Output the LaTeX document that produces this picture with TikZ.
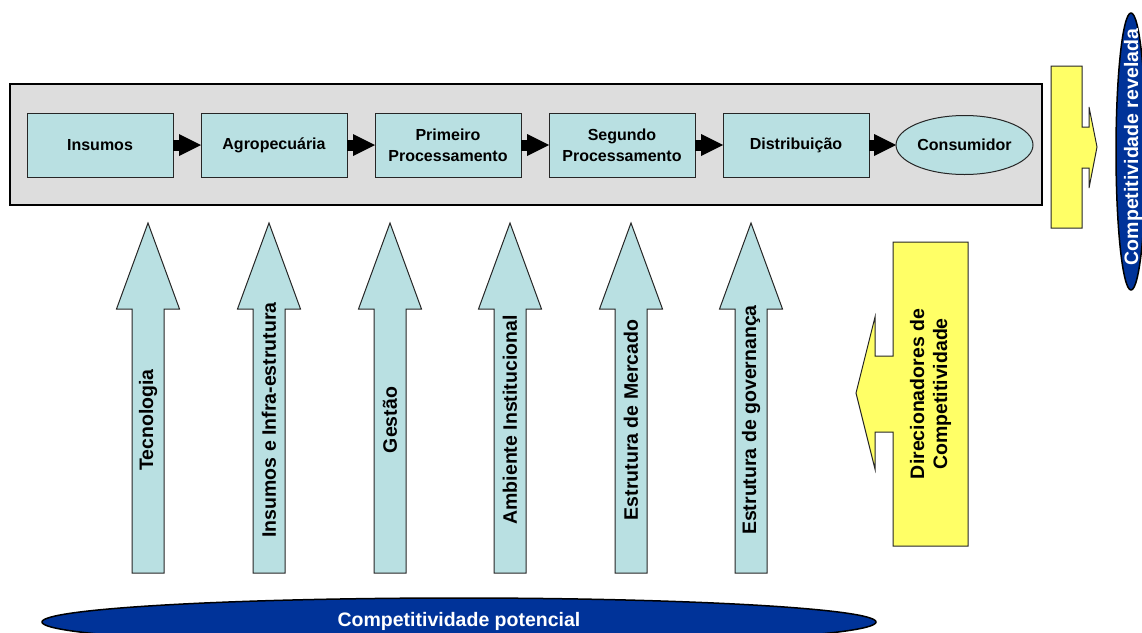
\documentclass[tikz,border=0pt]{standalone}
\usepackage{fontspec}
\setmainfont{Liberation Sans}
\usetikzlibrary{positioning, arrows.meta, shapes.geometric}
\definecolor{stagecyan}{RGB}{185,224,226}
\definecolor{panelgray}{RGB}{221,221,221}
\definecolor{driveryellow}{RGB}{255,255,102}
\definecolor{compblue}{RGB}{0,51,153}

\begin{document}
\begin{tikzpicture}[x=1pt,y=-1pt,
    stage node/.style={rectangle,draw=black!85,line width=1pt,fill=stagecyan,minimum width=146pt,
      minimum height=64pt,inner sep=0pt,outer sep=0pt,align=center,font=\bfseries\fontsize{16}{21}\selectfont},
    end node/.style={ellipse,draw=black!85,line width=1pt,fill=stagecyan,minimum width=137pt,
      minimum height=59pt,inner sep=0pt,outer sep=0pt,font=\bfseries\fontsize{16}{21}\selectfont},
    flow/.style={line width=11pt,-{Triangle[length=22pt,width=22pt,line width=0pt]}},
    up arrow/.style={draw=black!85,line width=1pt,fill=stagecyan},
    factor/.style={rotate=90,inner sep=0pt,font=\bfseries\fontsize{19.5}{23}\selectfont},
    driver/.style={draw=black!85,line width=1pt,fill=driveryellow},
    result/.style={draw=black,line width=1.5pt,fill=compblue},
    result text/.style={text=white,inner sep=0pt,font=\bfseries\fontsize{19.5}{23}\selectfont}]
  \clip (0,0) rectangle (1142,632);
  % cadeia produtiva
  \draw[fill=panelgray,line width=1.2pt] (10,84) rectangle (1042,205);
  \node[stage node] (ins) at (100,145) {Insumos};
  \node[stage node] (agro) [right=28pt of ins] {Agropecuária};
  \node[stage node] (proc1) [right=28pt of agro] {Primeiro\\Processamento};
  \node[stage node] (proc2) [right=28pt of proc1] {Segundo\\Processamento};
  \node[stage node] (dist) [right=28pt of proc2] {Distribuição};
  \node[end node] (cons) [right=27pt of dist] {Consumidor};
  \foreach \a/\b in {ins/agro, agro/proc1, proc1/proc2, proc2/dist, dist/cons}
    \draw[flow] (\a) -- (\b);
  % direcionadores
  \foreach \x/\txt [count=\i] in {148/Tecnologia, 269/Insumos e Infra-estrutura,
      390/Gestão, 510/Ambiente Institucional, 631/Estrutura de Mercado,
      751/Estrutura de governança} {
    \draw[up arrow] ({\x-16},573) -- ({\x-16},309) -- ({\x-31.5},309) -- (\x,223)
      -- ({\x+31.5},309) -- ({\x+16},309) -- ({\x+16},573) -- cycle;
    \node[factor] (f\i) at (\x,420) {\txt};
  }
  \draw[driver] (968,242) -- (893,242) -- (893,356) -- (875,356) -- (875,317)
    -- (856,393) -- (875,469) -- (875,432) -- (893,432) -- (893,546) -- (968,546) -- cycle;
  \node[factor,align=center] (drv) at (930.5,394) {Direcionadores de\\Competitividade};
  \draw[driver] (1051,66) -- (1082,66) -- (1082,127) -- (1089,127) -- (1089,107)
    -- (1097,147) -- (1089,188) -- (1089,168) -- (1082,168) -- (1082,228) -- (1051,228) -- cycle;
  % competitividade
  \draw[result] (459,622) ellipse [x radius=417, y radius=24];
  \node[result text] (pot) at (459,621) {Competitividade potencial};
  \draw[result] (1131,151.5) ellipse [x radius=15, y radius=138.5];
  \node[result text,rotate=90] (rev) at (1133,147) {Competitividade revelada};
\end{tikzpicture}
\end{document}
